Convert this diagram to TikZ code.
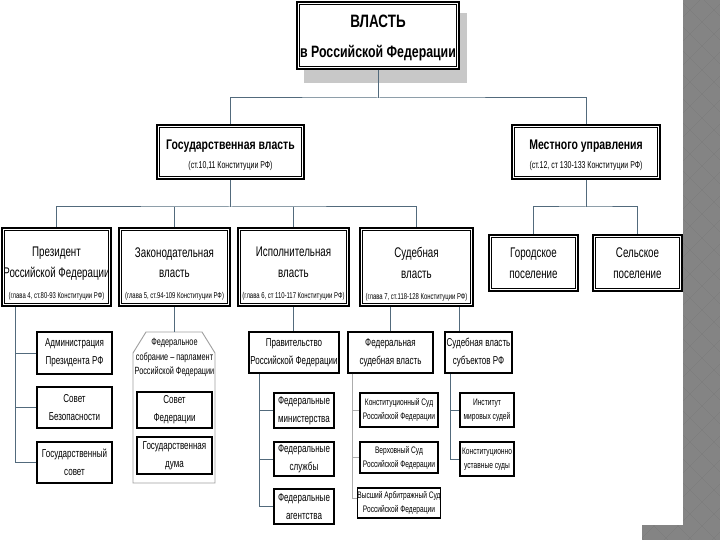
\documentclass[tikz,border=0pt]{standalone}
\usepackage{fontspec}
\setmainfont{Liberation Sans}
\newfontfamily\nar[FakeStretch=0.7]{Liberation Sans}
\newfontfamily\narb[FakeStretch=0.75]{Liberation Sans}
\definecolor{conn}{RGB}{82,106,124}
\definecolor{patl}{RGB}{132,132,132}
\definecolor{patd}{RGB}{94,94,94}
\definecolor{shadowc}{RGB}{200,200,200}
\tikzset{
 dbox/.style={draw=black, line width=1.8bp, fill=white, inner sep=0pt,
   path picture={\draw[line width=0.8bp] ([shift={(2.8bp,-2.8bp)}]path picture bounding box.north west) rectangle ([shift={(-2.8bp,2.8bp)}]path picture bounding box.south east);}},
 rowtxt/.style={align=center, inner sep=0pt, font=\nar\fontsize{14}{21}\selectfont},
 sbox/.style={draw=black, line width=1.2bp, fill=white, inner sep=0pt, align=center, font=\nar\fontsize{11.5}{18}\selectfont},
 jbox/.style={sbox, font=\nar\fontsize{9.5}{14}\selectfont},
 cline/.style={draw=conn, line width=1bp},
 lline/.style={draw=gray!65, line width=0.9bp},
}
\newcommand{\subt}[1]{\fontsize{8.5}{22}\selectfont #1}
\begin{document}
\begin{tikzpicture}[x=1bp,y=-1bp]
\useasboundingbox (0,0) rectangle (720,540);
\fill[white] (0,0) rectangle (720,540);
% decorative border
\begin{scope}
\clip (683,0) rectangle (720,540) (642,525) rectangle (720,540);
\fill[patd] (620,-20) rectangle (740,560);
\foreach \x in {630,654,...,726}{\foreach \y in {-14,10,...,562}{
  \fill[patl] (\x-12,\y) -- (\x,\y-12) -- (\x+12,\y) -- (\x,\y+12) -- cycle;
}}
\foreach \x in {642,666,...,738}{\foreach \y in {-2,22,...,562}{
  \fill[patl] (\x-12,\y) -- (\x,\y-12) -- (\x+12,\y) -- (\x,\y+12) -- cycle;
}}
\end{scope}
% level 1
\fill[shadowc] (304,13) rectangle (467,83);
\node[dbox, minimum width=162bp, minimum height=67bp] (top) at (378,35.5) {};
\node[align=center, inner sep=0pt, font=\narb\bfseries\fontsize{16.5}{30}\selectfont] (topt) at ([yshift=-2.5bp]top.center)
  {\fontsize{18}{30}\selectfont ВЛАСТЬ\\в Российской Федерации};
% level 2
\node[dbox, minimum width=147bp, minimum height=54bp] (gos) at (230.5,152) {};
\node[align=center, inner sep=0pt, font=\narb\bfseries\fontsize{14}{19}\selectfont] (gost) at ([yshift=-3bp]gos.center)
  {Государственная власть\\\nar\mdseries\fontsize{10}{19}\selectfont (ст.10,11 Конституции РФ)};
\node[dbox, minimum width=148bp, minimum height=54bp] (mest) at (586,152) {};
\node[align=center, inner sep=0pt, font=\narb\bfseries\fontsize{14}{19}\selectfont] (mestt) at ([yshift=-3bp]mest.center)
  {Местного управления\\\nar\mdseries\fontsize{10}{19}\selectfont (ст.12, ст 130-133 Конституции РФ)};
% level 3
\node[dbox, minimum width=109bp, minimum height=78bp] (pres) at (56.5,267) {};
\node[rowtxt] (prest) at ([yshift=-7bp]pres.center) {Президент\\Российской Федерации\\\subt{(глава 4, ст.80-93 Конституции РФ)}};
\node[dbox, minimum width=111bp, minimum height=78bp] (zak) at (174.5,267) {};
\node[rowtxt] (zakt) at ([yshift=-7bp]zak.center) {Законодательная\\власть\\\subt{(глава 5, ст.94-109 Конституции РФ)}};
\node[dbox, minimum width=111bp, minimum height=78bp] (isp) at (293.5,267) {};
\node[rowtxt] (ispt) at ([yshift=-7bp]isp.center) {Исполнительная\\власть\\\subt{(глава 6, ст 110-117 Конституции РФ)}};
\node[dbox, minimum width=113bp, minimum height=78bp] (sud) at (416.5,267) {};
\node[rowtxt] (sudt) at ([yshift=-7bp]sud.center) {Судебная\\власть\\\subt{(глава 7, ст.118-128 Конституции РФ)}};
\node[dbox, rowtxt, minimum width=89bp, minimum height=56bp] (gor) at (533.5,263)
  {Городское\\поселение};
\node[dbox, rowtxt, minimum width=89bp, minimum height=56bp] (sel) at (637.5,263)
  {Сельское\\поселение};
% level 4: president
\node[sbox, minimum width=75bp, minimum height=42bp] (adm) at (74.5,353) {Администрация\\Президента РФ};
\node[sbox, minimum width=75bp, minimum height=41bp] (sov) at (74.5,407.5) {Совет\\Безопасности};
\node[sbox, minimum width=75bp, minimum height=41bp] (gsov) at (74.5,462.5) {Государственный\\совет};
% level 4: legislative
\draw[draw=gray!75, line width=0.9bp] (146,332) -- (202,332) -- (215,353) -- (215,483) -- (133,483) -- (133,353) -- cycle;
\coordinate (fatop) at (174.5,332);
\node[align=center, inner sep=0pt, font=\nar\fontsize{10.5}{15}\selectfont] (fatxt) at (174.5,357.5)
  {Федеральное\\собрание – парламент\\Российской Федерации};
\node[sbox, minimum width=75bp, minimum height=36bp] (sf) at (174.5,410) {Совет\\Федерации};
\node[sbox, minimum width=75bp, minimum height=37bp] (gd) at (174.5,455.5) {Государственная\\дума};
% level 4: executive
\node[sbox, minimum width=90bp, minimum height=41bp] (prav) at (294,352.5) {Правительство\\Российской Федерации};
\node[sbox, minimum width=60bp, minimum height=35bp] (fmin) at (304,410.5) {Федеральные\\министерства};
\node[sbox, minimum width=60bp, minimum height=34bp] (fsl) at (304,459) {Федеральные\\службы};
\node[sbox, minimum width=60bp, minimum height=35bp] (fag) at (304,506.5) {Федеральные\\агентства};
% level 4: judicial
\node[sbox, minimum width=85bp, minimum height=41bp] (fsv) at (390.5,352.5) {Федеральная\\судебная власть};
\node[sbox, minimum width=67bp, minimum height=41bp] (ssub) at (478.5,352.5) {Судебная власть\\субъектов РФ};
\node[jbox, minimum width=78bp, minimum height=34bp] (ks) at (399,410) {Конституционный Суд\\Российской Федерации};
\node[jbox, minimum width=78bp, minimum height=31bp] (vs) at (399,457.5) {Верховный Суд\\Российской Федерации};
\node[jbox, minimum width=78bp, minimum height=30bp] (vas) at (399,503) {Высший Арбитражный Суд\\Российской Федерации};
\node[jbox, minimum width=54bp, minimum height=34bp] (isd) at (487,410) {Институт\\мировых судей};
\node[jbox, minimum width=54bp, minimum height=34bp] (kus) at (487,459) {Конституционно\\уставные суды};
% connectors
\coordinate (b1) at (378,98);
\draw[cline] (top.south) -- (b1);
\draw[cline] (gos.north) |- (b1) -| (mest.north);
\coordinate (b2) at (230.5,207);
\draw[cline] (gos.south) -- (b2);
\draw[cline] (pres.north) |- (b2) -| (sud.north);
\draw[cline] (zak.north) -- (zak.north |- b2);
\draw[cline] (isp.north) -- (isp.north |- b2);
\coordinate (b3) at (586,207);
\draw[cline] (mest.south) -- (b3);
\draw[cline] (gor.north) |- (b3) -| (sel.north);
% president branches
\coordinate (pl) at ([xshift=14bp]pres.south west);
\draw[cline] (pl) |- (gsov.west);
\draw[cline] (pl |- adm.west) -- (adm.west);
\draw[cline] (pl |- sov.west) -- (sov.west);
% legislative
\draw[cline] (zak.south) -- (fatop);
% executive
\draw[cline] (isp.south) -- (isp.south |- prav.north);
\coordinate (pv) at ([xshift=11bp]prav.south west);
\draw[cline] (pv) |- (fag.west);
\draw[cline] (pv |- fmin.west) -- (fmin.west);
\draw[cline] (pv |- fsl.west) -- (fsl.west);
% judicial
\draw[cline] (fsv.north |- sud.south) -- (fsv.north);
\coordinate (sc) at ([xshift=15bp]ssub.north west);
\draw[cline] (sc |- sud.south) -- (sc);
\coordinate (fv) at ([xshift=5bp]fsv.south west);
\coordinate (vasb) at ([yshift=5bp]vas.west);
\draw[lline] (fv) |- (vasb);
\draw[lline] (fv |- ks.west) -- (ks.west);
\draw[lline] (fv |- vs.west) -- (vs.west);
\coordinate (sv) at ([xshift=6bp]ssub.south west);
\draw[cline] (sv) |- (kus.west);
\draw[cline] (sv |- isd.west) -- (isd.west);
\end{tikzpicture}
\end{document}
